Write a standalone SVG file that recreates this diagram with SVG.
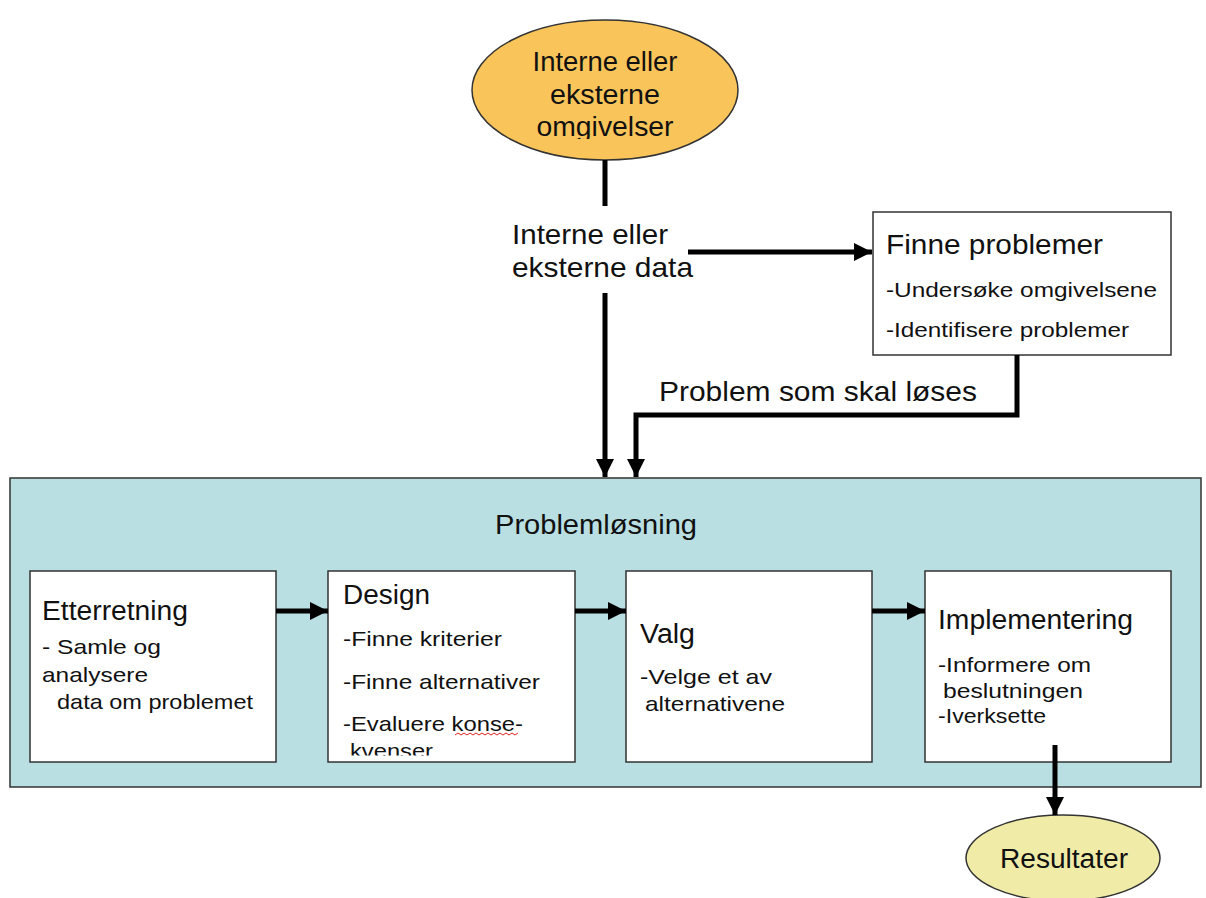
<svg xmlns="http://www.w3.org/2000/svg" width="1206" height="898" viewBox="0 0 1206 898">
<defs>
<marker id="ah" viewBox="0 0 10 10" refX="10" refY="5" markerWidth="3.7" markerHeight="3.9" orient="auto" markerUnits="strokeWidth">
<path d="M0,0 L10,5 L0,10 z" fill="#000"/>
</marker>
<clipPath id="clipOmg"><rect x="470" y="100" width="270" height="39"/></clipPath>
<clipPath id="clipKv"><rect x="330" y="730" width="240" height="25.5"/></clipPath>
<style>
text{font-family:"Liberation Sans",Arial,sans-serif;fill:#111}
.big{font-size:28px}
.ell{font-size:27px}
.hd{font-size:27px}
.sm{font-size:21px}
.box{fill:#fff;stroke:#333;stroke-width:1.5}
.conn{fill:none;stroke:#000;stroke-width:5}
</style>
</defs>
<rect width="1206" height="898" fill="#fff"/>

<g id="problemlosning">
<rect x="10" y="478" width="1191" height="309" fill="#B9DFE3" stroke="#333" stroke-width="1.5"/>
<text class="big" x="596" y="534" text-anchor="middle" textLength="202" lengthAdjust="spacingAndGlyphs">Problemløsning</text>
</g>

<g id="omgivelser">
<ellipse cx="605" cy="90" rx="133" ry="70" fill="#F9C55A" stroke="#333" stroke-width="1.5"/>
<text class="ell" x="605" y="71" text-anchor="middle" textLength="145" lengthAdjust="spacingAndGlyphs">Interne eller</text>
<text class="ell" x="605" y="104" text-anchor="middle" textLength="110" lengthAdjust="spacingAndGlyphs">eksterne</text>
<text class="ell" x="605" y="136" text-anchor="middle" textLength="137" lengthAdjust="spacingAndGlyphs" clip-path="url(#clipOmg)">omgivelser</text>
</g>

<g id="data-label">
<text class="big" x="512" y="244" textLength="156" lengthAdjust="spacingAndGlyphs">Interne eller</text>
<text class="big" x="512" y="277" textLength="181" lengthAdjust="spacingAndGlyphs">eksterne data</text>
</g>

<g id="finne">
<rect class="box" x="873" y="212" width="298" height="143"/>
<text class="big" x="886" y="254" textLength="217" lengthAdjust="spacingAndGlyphs">Finne problemer</text>
<text class="sm" x="886" y="297" textLength="271" lengthAdjust="spacingAndGlyphs">-Undersøke omgivelsene</text>
<text class="sm" x="886" y="337" textLength="243" lengthAdjust="spacingAndGlyphs">-Identifisere problemer</text>
</g>

<g id="problem-label">
<text class="big" x="659" y="401" textLength="318" lengthAdjust="spacingAndGlyphs">Problem som skal løses</text>
</g>

<g id="etterretning">
<rect class="box" x="30" y="571" width="246" height="191"/>
<text class="hd" x="42" y="620" textLength="146" lengthAdjust="spacingAndGlyphs">Etterretning</text>
<text class="sm" x="42" y="654" textLength="119" lengthAdjust="spacingAndGlyphs">-  Samle og</text>
<text class="sm" x="42" y="682" textLength="106" lengthAdjust="spacingAndGlyphs">analysere</text>
<text class="sm" x="57" y="709" textLength="196" lengthAdjust="spacingAndGlyphs">data om problemet</text>
</g>

<g id="design">
<rect class="box" x="328" y="571" width="247" height="191"/>
<text class="hd" x="343" y="604" textLength="87" lengthAdjust="spacingAndGlyphs">Design</text>
<text class="sm" x="343" y="646" textLength="159" lengthAdjust="spacingAndGlyphs">-Finne kriterier</text>
<text class="sm" x="343" y="689" textLength="197" lengthAdjust="spacingAndGlyphs">-Finne alternativer</text>
<text class="sm" x="343" y="731" textLength="180" lengthAdjust="spacingAndGlyphs">-Evaluere konse-</text>
<path d="M455,735 l3,-2 l3,2 l3,-2 l3,2 l3,-2 l3,2 l3,-2 l3,2 l3,-2 l3,2 l3,-2 l3,2 l3,-2 l3,2 l3,-2 l3,2 l3,-2 l3,2 l3,-2 l3,2 l3,-2" fill="none" stroke="#e02020" stroke-width="1"/>
<text class="sm" x="350" y="758" textLength="83" lengthAdjust="spacingAndGlyphs" clip-path="url(#clipKv)">kvenser</text>
</g>

<g id="valg">
<rect class="box" x="626" y="571" width="246" height="191"/>
<text class="hd" x="640" y="643" textLength="55" lengthAdjust="spacingAndGlyphs">Valg</text>
<text class="sm" x="640" y="684" textLength="132" lengthAdjust="spacingAndGlyphs">-Velge et av</text>
<text class="sm" x="645" y="711" textLength="140" lengthAdjust="spacingAndGlyphs">alternativene</text>
</g>

<g id="implementering">
<rect class="box" x="925" y="571" width="246" height="191"/>
<text class="hd" x="938" y="629" textLength="195" lengthAdjust="spacingAndGlyphs">Implementering</text>
<text class="sm" x="938" y="672" textLength="153" lengthAdjust="spacingAndGlyphs">-Informere om</text>
<text class="sm" x="943" y="698" textLength="140" lengthAdjust="spacingAndGlyphs">beslutningen</text>
<text class="sm" x="938" y="723" textLength="108" lengthAdjust="spacingAndGlyphs">-Iverksette</text>
</g>

<g id="resultater">
<ellipse cx="1063" cy="858" rx="97" ry="43" fill="#F0ECA8" stroke="#333" stroke-width="1.5"/>
<text class="hd" x="1064" y="868" text-anchor="middle" textLength="128" lengthAdjust="spacingAndGlyphs">Resultater</text>
</g>

<g id="connectors">
<line class="conn" x1="605" y1="160" x2="605" y2="206"/>
<line class="conn" x1="605" y1="293" x2="605" y2="477" marker-end="url(#ah)"/>
<line class="conn" x1="688" y1="252" x2="872" y2="252" marker-end="url(#ah)"/>
<polyline class="conn" points="1017,355 1017,415 636,415 636,477" marker-end="url(#ah)"/>
<line class="conn" x1="276" y1="611" x2="328" y2="611" marker-end="url(#ah)"/>
<line class="conn" x1="575" y1="611" x2="626" y2="611" marker-end="url(#ah)"/>
<line class="conn" x1="872" y1="611" x2="925" y2="611" marker-end="url(#ah)"/>
<line class="conn" x1="1055" y1="745" x2="1055" y2="815" marker-end="url(#ah)"/>
</g>
</svg>
